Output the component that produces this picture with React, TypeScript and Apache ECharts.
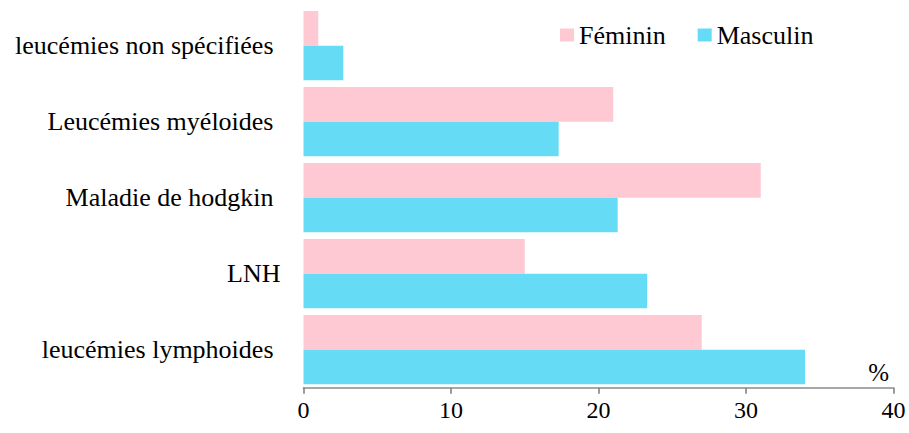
import React, { useEffect, useRef } from "react";
import * as echarts from "echarts";

const categories = [
  "leucémies lymphoides",
  "LNH",
  "Maladie de hodgkin",
  "Leucémies myéloides",
  "leucémies non spécifiées",
];
const feminin = [27, 15, 31, 21, 1];
const masculin = [34, 23.3, 21.3, 17.3, 2.7];
const xTicks = { min: 0, max: 40, interval: 10 };

const FONT = "'Liberation Serif', 'Times New Roman', Times, serif";
const PINK = "#FFC9D3";
const CYAN = "#66DBF6";
const AXIS = "#8a8a8a";

function buildOption() {
  return {
    animation: false,
    textStyle: { fontFamily: FONT, color: "#000" },
    grid: { left: 303.5, right: 15.5, top: 7.7, bottom: 45.3, containLabel: false },
    legend: {
      left: 555,
      top: 17,
      itemWidth: 14,
      itemHeight: 13,
      itemGap: 32,
      icon: "rect",
      textStyle: { fontFamily: FONT, fontSize: 26, color: "#000" },
      data: ["Féminin", "Masculin"],
    },
    xAxis: {
      type: "value",
      min: xTicks.min,
      max: xTicks.max,
      interval: xTicks.interval,
      splitLine: { show: false },
      axisLine: { show: true, lineStyle: { color: AXIS, width: 1.7 } },
      axisTick: { show: true, length: 6, lineStyle: { color: AXIS, width: 1.7 } },
      axisLabel: { fontFamily: FONT, fontSize: 24, color: "#000", margin: 10 },
    },
    yAxis: {
      type: "category",
      data: categories,
      axisLine: { show: false },
      axisTick: { show: false },
      axisLabel: {
        fontFamily: FONT,
        fontSize: 26,
        color: "#000",
        margin: 23,
        formatter: (v: string) => (v === "LNH" ? v : `{p|${v}}`),
        rich: { p: { fontFamily: FONT, fontSize: 26, color: "#000", padding: [0, 7, 0, 0] } },
      },
    },
    graphic: [
      {
        type: "text",
        right: 20,
        top: 360,
        style: { text: "%", fontFamily: FONT, fontSize: 25, fill: "#000" },
      },
    ],
    series: [
      { name: "Féminin", type: "bar", data: feminin, barGap: "0%", barCategoryGap: "8.8%", itemStyle: { color: PINK } },
      { name: "Masculin", type: "bar", data: masculin, barGap: "0%", barCategoryGap: "8.8%", itemStyle: { color: CYAN } },
    ],
  };
}

export default function App() {
  const ref = useRef<HTMLDivElement>(null);
  useEffect(() => {
    document.body.style.margin = "0";
    let alive = true;
    const chart = echarts.init(ref.current!, null, { renderer: "svg" });
    chart.setOption(buildOption() as any);
    const redraw = () => {
      if (!alive) return;
      chart.clear();
      chart.setOption(buildOption() as any, true);
    };
    const fonts = (document as any).fonts;
    if (fonts && fonts.load) {
      fonts.load(`26px "Liberation Serif"`).then(redraw);
      fonts.ready.then(redraw);
    }
    const t1 = setTimeout(redraw, 50);
    const t2 = setTimeout(redraw, 300);
    return () => {
      alive = false;
      clearTimeout(t1);
      clearTimeout(t2);
      chart.dispose();
    };
  }, []);
  return <div ref={ref} style={{ width: 909, height: 433, fontFamily: FONT }} />;
}
